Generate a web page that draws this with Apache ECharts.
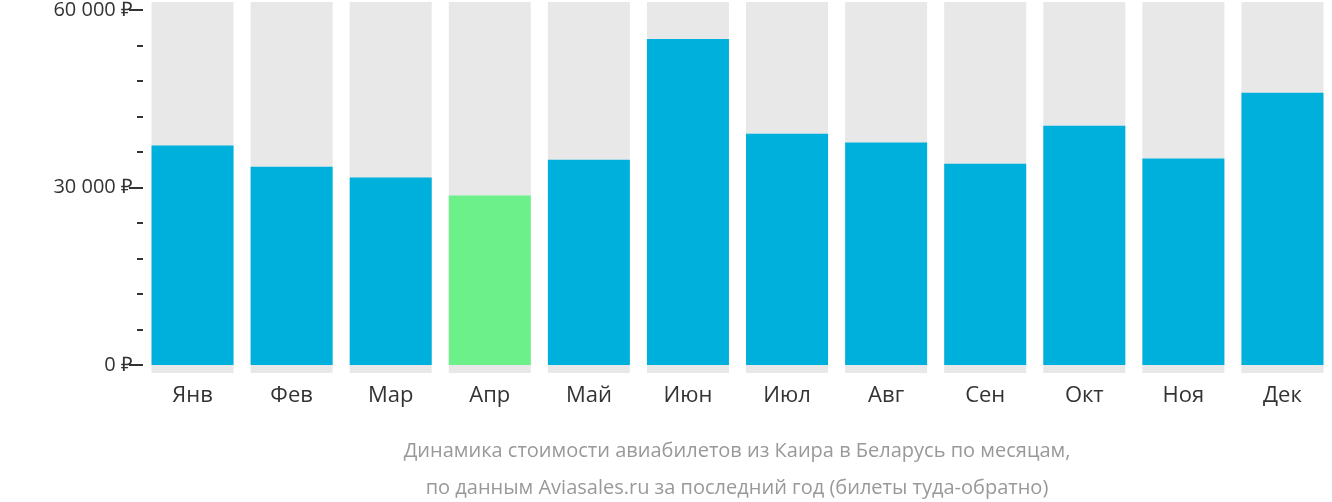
<!DOCTYPE html>
<html>
<head>
<meta charset="utf-8">
<script src="https://cdn.jsdelivr.net/npm/echarts@6/dist/echarts.min.js"></script>
<style>
  html, body { margin: 0; padding: 0; background: #fff; }
  #chart { width: 1332px; height: 502px; }
</style>
</head>
<body>
<div id="chart"></div>
<script>
// Данные
const months = ['Янв', 'Фев', 'Мар', 'Апр', 'Май', 'Июн', 'Июл', 'Авг', 'Сен', 'Окт', 'Ноя', 'Дек'];
const prices = [37100, 33500, 31700, 28650, 34700, 55100, 39100, 37600, 34000, 40450, 34900, 46000];
const cheapestIndex = 3;
const majorTicks = [0, 30000, 60000];
const minorTicks = [6000, 12000, 18000, 24000, 36000, 42000, 48000, 54000];

const fmt = v => String(v).replace(/\B(?=(\d{3})+(?!\d))/g, ' ') + ' ₽';

const chart = echarts.init(document.getElementById('chart'));
chart.setOption({
    animation: false,
    textStyle: { fontFamily: 'Open Sans' },
    title: {
        text: 'Динамика стоимости авиабилетов из Каира в Беларусь по месяцам,\nпо данным Aviasales.ru за последний год (билеты туда-обратно)',
        left: 732,
        top: 428,
        textAlign: 'center',
        textStyle: { color: '#999', fontSize: 20, fontWeight: 'normal', lineHeight: 37 }
    },
    grid: { left: 143, width: 1200, top: 0, height: 373 },
    xAxis: {
        type: 'category',
        data: months,
        axisLine: { show: false },
        axisTick: { show: false },
        axisLabel: { color: '#333', fontSize: 22, margin: 12 }
    },
    yAxis: [
        {
            type: 'value',
            min: -1350,
            max: 61350,
            splitLine: { show: false },
            axisLine: { show: false },
            axisTick: { show: true, length: 6, customValues: minorTicks, lineStyle: { color: '#333', width: 2 } },
            axisLabel: { show: false }
        },
        {
            type: 'value',
            min: -1350,
            max: 61350,
            splitLine: { show: false },
            axisLine: { show: false },
            axisTick: { show: true, length: 14, customValues: majorTicks, lineStyle: { color: '#333', width: 2 } },
            axisLabel: { customValues: majorTicks, formatter: fmt, color: '#333', fontSize: 20, margin: 10 },
            position: 'left'
        }
    ],
    series: [{
        type: 'bar',
        barWidth: 82,
        showBackground: true,
        backgroundStyle: { color: '#e8e8e8' },
        data: prices.map((v, i) => ({
            value: v,
            itemStyle: { color: i === cheapestIndex ? '#6cf08a' : '#00b0dc' }
        }))
    }]
});
</script>
</body>
</html>
